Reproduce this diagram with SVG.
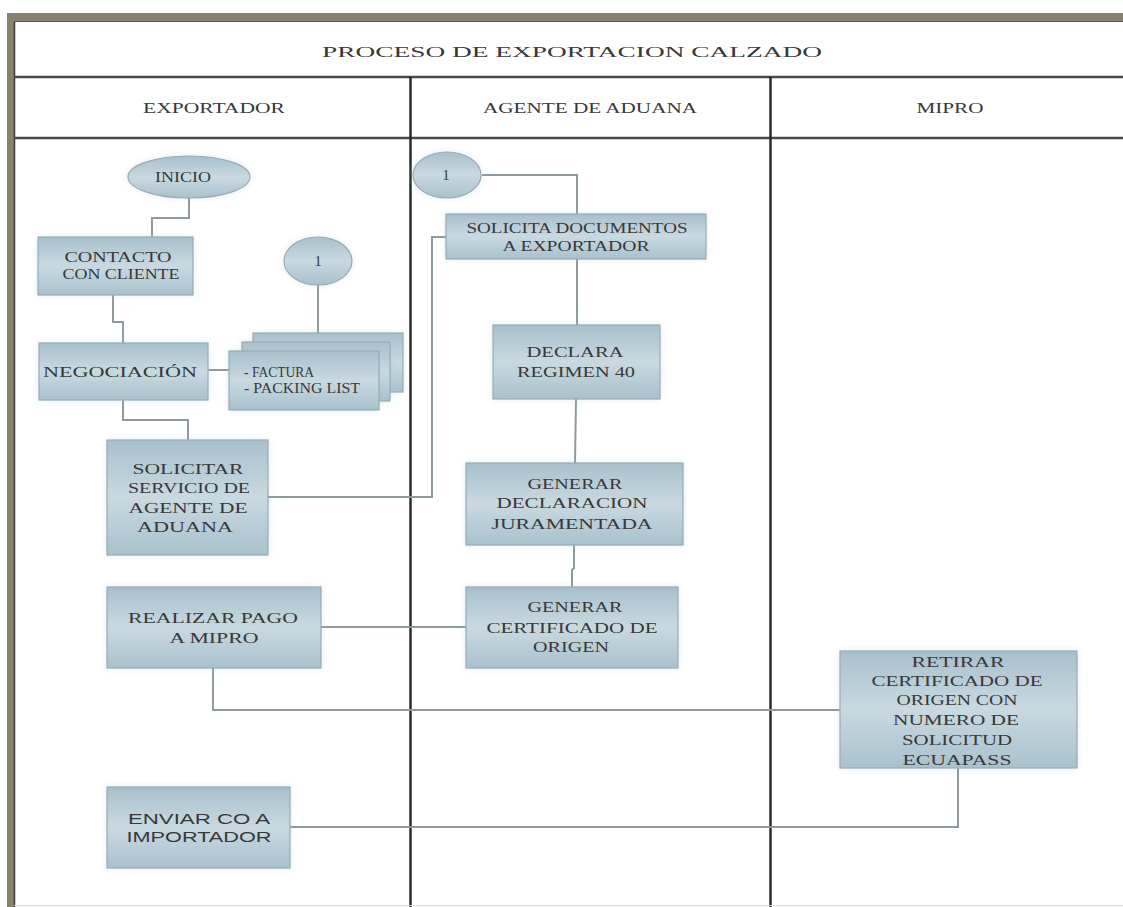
<svg xmlns="http://www.w3.org/2000/svg" width="1123" height="907" viewBox="0 0 1123 907">
<defs>
<linearGradient id="g" x1="0" y1="0" x2="0" y2="1">
<stop offset="0" stop-color="#a8c0cb"/>
<stop offset="0.5" stop-color="#c9d9e0"/>
<stop offset="1" stop-color="#a9c1cc"/>
</linearGradient>
<filter id="glow" x="-10%" y="-10%" width="120%" height="120%">
<feDropShadow dx="0" dy="0" stdDeviation="3" flood-color="#b0c4cc" flood-opacity="0.35"/>
</filter>
<style>
.box{fill:url(#g);stroke:#95acb7;stroke-width:1.2;filter:url(#glow)}
.t{font-family:"Liberation Serif","Times New Roman",serif;fill:#383838;text-anchor:middle;font-size:15px}
.ts{font-family:"Liberation Sans",Arial,sans-serif;fill:#383838;text-anchor:middle;font-size:15px}
.conn{fill:none;stroke:#8d9ba1;stroke-width:2}
.lane{stroke:#2a2a2a;stroke-width:2.5}
.hline{stroke:#4a4a4a;stroke-width:2.5}
</style>
</defs>
<rect width="1123" height="907" fill="#ffffff"/>
<g id="frame">
<rect x="7" y="13" width="1116" height="8" fill="#8b8170"/>
<rect x="7" y="13" width="7" height="894" fill="#8b8170"/>
<line x1="14.5" y1="21" x2="14.5" y2="907" stroke="#3a3a3a" stroke-width="1.5"/>
<line x1="14" y1="21.5" x2="1123" y2="21.5" stroke="#5a5a5a" stroke-width="1"/>
<line class="hline" x1="14" y1="77" x2="1123" y2="77"/>
<line class="hline" x1="14" y1="138" x2="1123" y2="138"/>
<line class="lane" x1="410.5" y1="77" x2="410.5" y2="907"/>
<line class="lane" x1="770.5" y1="77" x2="770.5" y2="907"/>
<line x1="14" y1="905.5" x2="1123" y2="905.5" stroke="#d8d8d8" stroke-width="1"/>
<text class="t" x="572" y="57" font-size="22" textLength="500" lengthAdjust="spacingAndGlyphs">PROCESO DE EXPORTACION CALZADO</text>
<text class="t" x="214" y="113" textLength="142" lengthAdjust="spacingAndGlyphs">EXPORTADOR</text>
<text class="t" x="590" y="113" textLength="214" lengthAdjust="spacingAndGlyphs">AGENTE DE ADUANA</text>
<text class="t" x="950" y="113" textLength="67" lengthAdjust="spacingAndGlyphs">MIPRO</text>
</g>
<g id="connectors">
<polyline class="conn" points="189,198 189,218 152,218 152,237"/>
<polyline class="conn" points="113,295 113,322 123,322 123,343"/>
<polyline class="conn" points="208,370 230,370"/>
<polyline class="conn" points="123,400 123,420 188,420 188,440"/>
<polyline class="conn" points="318,285 318,333"/>
<polyline class="conn" points="482,175 577,175 577,214"/>
<polyline class="conn" points="268,497 432,497 432,237 446,237"/>
<polyline class="conn" points="577,259 577,325"/>
<polyline class="conn" points="576,399 575,463"/>
<polyline class="conn" points="574,545 574,568 572,570 572,587"/>
<polyline class="conn" points="321,627 466,627"/>
<polyline class="conn" points="213,668 213,710 840,710"/>
<polyline class="conn" points="958,768 958,827 290,827"/>
</g>
<g id="inicio">
<ellipse class="box" cx="189" cy="177" rx="61" ry="21"/>
<text class="t" x="183" y="182" textLength="56" lengthAdjust="spacingAndGlyphs">INICIO</text>
</g>
<g id="contacto">
<rect class="box" x="38" y="237" width="155" height="58"/>
<text class="t" x="118" y="262" textLength="107" lengthAdjust="spacingAndGlyphs">CONTACTO</text>
<text class="t" x="121" y="279" textLength="117" lengthAdjust="spacingAndGlyphs">CON CLIENTE</text>
</g>
<g id="negociacion">
<rect class="box" x="39" y="343" width="169" height="57"/>
<text class="t" x="120" y="377" font-size="16" textLength="154" lengthAdjust="spacingAndGlyphs">NEGOCIACIÓN</text>
</g>
<g id="conector1a">
<ellipse class="box" cx="318" cy="261" rx="34" ry="24"/>
<text class="t" x="318" y="266">1</text>
</g>
<g id="documentos">
<rect class="box" x="253" y="333" width="150" height="59"/>
<rect class="box" x="242" y="342" width="148" height="59"/>
<rect class="box" x="229" y="351" width="150" height="59"/>
<text class="t" x="244" y="377" font-size="10" style="text-anchor:start" textLength="70" lengthAdjust="spacingAndGlyphs">- FACTURA</text>
<text class="t" x="244" y="393" font-size="10" style="text-anchor:start" textLength="116" lengthAdjust="spacingAndGlyphs">- PACKING LIST</text>
</g>
<g id="solicitar">
<rect class="box" x="107" y="440" width="161" height="115"/>
<text class="t" x="188" y="474" textLength="111" lengthAdjust="spacingAndGlyphs">SOLICITAR</text>
<text class="t" x="189" y="493" textLength="122" lengthAdjust="spacingAndGlyphs">SERVICIO DE</text>
<text class="t" x="188" y="513" textLength="119" lengthAdjust="spacingAndGlyphs">AGENTE DE</text>
<text class="t" x="185" y="532" textLength="96" lengthAdjust="spacingAndGlyphs">ADUANA</text>
</g>
<g id="realizar">
<rect class="box" x="107" y="587" width="214" height="81"/>
<text class="t" x="213" y="623" textLength="170" lengthAdjust="spacingAndGlyphs">REALIZAR PAGO</text>
<text class="t" x="214" y="643" textLength="89" lengthAdjust="spacingAndGlyphs">A MIPRO</text>
</g>
<g id="enviar">
<rect class="box" x="107" y="787" width="183" height="81"/>
<text class="ts" x="199" y="824" textLength="142" lengthAdjust="spacingAndGlyphs">ENVIAR CO A</text>
<text class="ts" x="199" y="842" textLength="145" lengthAdjust="spacingAndGlyphs">IMPORTADOR</text>
</g>
<g id="conector1b">
<ellipse class="box" cx="447" cy="175" rx="34" ry="23"/>
<text class="t" x="446" y="180">1</text>
</g>
<g id="solicita_documentos">
<rect class="box" x="446" y="214" width="260" height="45"/>
<text class="t" x="577" y="233" textLength="221" lengthAdjust="spacingAndGlyphs">SOLICITA DOCUMENTOS</text>
<text class="t" x="576" y="251" textLength="147" lengthAdjust="spacingAndGlyphs">A EXPORTADOR</text>
</g>
<g id="declara">
<rect class="box" x="493" y="325" width="167" height="74"/>
<text class="t" x="575" y="357" textLength="97" lengthAdjust="spacingAndGlyphs">DECLARA</text>
<text class="t" x="576" y="377" textLength="118" lengthAdjust="spacingAndGlyphs">REGIMEN 40</text>
</g>
<g id="generar_declaracion">
<rect class="box" x="466" y="463" width="217" height="82"/>
<text class="t" x="575" y="489" textLength="95" lengthAdjust="spacingAndGlyphs">GENERAR</text>
<text class="t" x="572" y="508" textLength="151" lengthAdjust="spacingAndGlyphs">DECLARACION</text>
<text class="t" x="572" y="529" textLength="161" lengthAdjust="spacingAndGlyphs">JURAMENTADA</text>
</g>
<g id="generar_certificado">
<rect class="box" x="466" y="587" width="212" height="81"/>
<text class="t" x="575" y="612" textLength="95" lengthAdjust="spacingAndGlyphs">GENERAR</text>
<text class="t" x="572" y="633" textLength="171" lengthAdjust="spacingAndGlyphs">CERTIFICADO DE</text>
<text class="t" x="571" y="652" textLength="76" lengthAdjust="spacingAndGlyphs">ORIGEN</text>
</g>
<g id="retirar">
<rect class="box" x="840" y="651" width="237" height="117"/>
<text class="t" x="958" y="667" textLength="93" lengthAdjust="spacingAndGlyphs">RETIRAR</text>
<text class="t" x="957" y="686" textLength="171" lengthAdjust="spacingAndGlyphs">CERTIFICADO DE</text>
<text class="t" x="957" y="705" textLength="121" lengthAdjust="spacingAndGlyphs">ORIGEN CON</text>
<text class="t" x="956" y="725" textLength="126" lengthAdjust="spacingAndGlyphs">NUMERO DE</text>
<text class="t" x="957" y="745" textLength="110" lengthAdjust="spacingAndGlyphs">SOLICITUD</text>
<text class="t" x="957" y="765" textLength="109" lengthAdjust="spacingAndGlyphs">ECUAPASS</text>
</g>
</svg>
